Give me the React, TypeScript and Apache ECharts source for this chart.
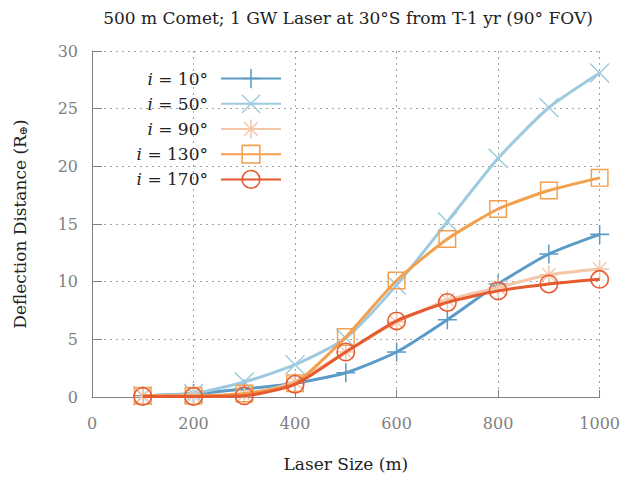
import React, { useEffect, useRef } from "react";
import * as echarts from "echarts";

const laserSizes = [100, 200, 300, 400, 500, 600, 700, 800, 900, 1000];
const seriesNames = ["i = 10°", "i = 50°", "i = 90°", "i = 130°", "i = 170°"];
const inc10 = [0.1, 0.3, 0.7, 1.2, 2.1, 3.9, 6.7, 9.8, 12.4, 14.1];
const inc50 = [0.1, 0.3, 1.3, 2.8, 5.1, 9.7, 15.2, 20.7, 25.1, 28.1];
const inc90 = [0.05, 0.1, 0.2, 1.3, 3.9, 6.5, 8.4, 9.5, 10.6, 11.1];
const inc130 = [0.1, 0.1, 0.3, 1.2, 5.2, 10.1, 13.7, 16.3, 17.9, 19.0];
const inc170 = [0.05, 0.05, 0.1, 1.1, 3.9, 6.6, 8.2, 9.2, 9.8, 10.2];
const yTicks = [0, 5, 10, 15, 20, 25, 30];
const xTicks = [0, 200, 400, 600, 800, 1000];

const colors = ["#5b9bc5", "#9dcadf", "#f5c6a8", "#f2a04e", "#e7592e"];

const PLUS = "path://M-0.8,-10 L0.8,-10 L0.8,10 L-0.8,10 Z M-10,-0.8 L10,-0.8 L10,0.8 L-10,0.8 Z";
const CROSS = "path://M-10,-9 L-9,-10 L10,9 L9,10 Z M9,-10 L10,-9 L-9,10 L-10,9 Z";
const STAR =
  "path://M-0.8,-10 L0.8,-10 L0.8,10 L-0.8,10 Z M-10,-0.8 L10,-0.8 L10,0.8 L-10,0.8 Z " +
  "M-7.6,-6.6 L-6.6,-7.6 L7.6,6.6 L6.6,7.6 Z M6.6,-7.6 L7.6,-6.6 L-6.6,7.6 L-7.6,6.6 Z";
const SQUARE = "path://M-10,-10 L10,-10 L10,10 L-10,10 Z M-8.4,-8.4 L-8.4,8.4 L8.4,8.4 L8.4,-8.4 Z";
const CIRCLE =
  "path://M0,-10 A10,10 0 1 1 0,10 A10,10 0 1 1 0,-10 Z M0,-8.4 A8.4,8.4 0 1 0 0,8.4 A8.4,8.4 0 1 0 0,-8.4 Z";

const symbols = [PLUS, CROSS, STAR, SQUARE, CIRCLE];
const symbolSizes = [19, 20, 19, 18, 19];
const values = [inc10, inc50, inc90, inc130, inc170];

const FONT = "DejaVu Serif";

export default function App() {
  const ref = useRef<HTMLDivElement>(null);
  useEffect(() => {
    if (!ref.current) return;
    const chart = echarts.init(ref.current, null, { renderer: "svg" });
    const series = values.map((vals, k) => ({
      name: seriesNames[k],
      type: "line",
      smooth: 0.2,
      data: laserSizes.map((x, j) => [x, vals[j]]),
      symbol: symbols[k],
      symbolSize: symbolSizes[k],
      showAllSymbol: true,
      itemStyle: { color: colors[k], borderWidth: 0 },
      lineStyle: { color: colors[k], width: 3 },
      emphasis: { disabled: true },
      z: 2 + k,
    }));
    chart.setOption({
      animation: false,
      backgroundColor: "#ffffff",
      title: {
        text: "500 m Comet; 1 GW Laser at 30°S from T-1 yr (90° FOV)",
        left: 343,
        textAlign: "center",
        top: 4,
        textStyle: { fontFamily: FONT, fontSize: 17, fontWeight: "normal", color: "#222" },
      },
      legend: {
        orient: "vertical",
        right: 341,
        top: 69,
        padding: 0,
        align: "right",
        itemWidth: 60,
        itemHeight: 24,
        itemGap: 6,
        data: seriesNames,
        formatter: (name: string) => "{it|i}" + name.slice(1),
        textStyle: {
          fontFamily: FONT,
          fontSize: 17,
          color: "#222",
          padding: [0, 8, 0, 0],
          rich: {
            it: { fontFamily: FONT, fontSize: 17, fontStyle: "italic", color: "#222" },
          },
        },
      },
      grid: { left: 92, right: 23, top: 51, bottom: 76 },
      xAxis: {
        type: "value",
        min: 0,
        max: 1000,
        interval: 200,
        name: "Laser Size (m)",
        nameLocation: "middle",
        nameGap: 58,
        nameTextStyle: { fontFamily: FONT, fontSize: 17, color: "#222" },
        axisLine: { show: true, lineStyle: { color: "#808080", width: 1 } },
        axisTick: { show: true, inside: true, length: 7, lineStyle: { color: "#808080" } },
        axisLabel: {
          margin: 18,
          fontFamily: FONT,
          fontSize: 16,
          color: "#808080",
          formatter: (v: number) => (xTicks.includes(v) ? String(v) : ""),
        },
        splitLine: { show: true, lineStyle: { color: "#a0a0a0", type: [2, 4], width: 1 } },
      },
      yAxis: {
        type: "value",
        min: 0,
        max: 30,
        interval: 5,
        name: "Deflection Distance (R{sub|⊕})",
        nameLocation: "middle",
        nameGap: 63,
        nameTextStyle: {
          fontFamily: FONT,
          fontSize: 17,
          color: "#222",
          rich: {
            sub: { fontFamily: FONT, fontSize: 11, color: "#222", padding: [7, 0, 0, 0] },
          },
        },
        axisLine: { show: true, lineStyle: { color: "#808080", width: 1 } },
        axisTick: { show: true, inside: true, length: 10, lineStyle: { color: "#808080" } },
        axisLabel: {
          margin: 14,
          fontFamily: FONT,
          fontSize: 16,
          color: "#808080",
          formatter: (v: number) => (yTicks.includes(v) ? String(v) : ""),
        },
        splitLine: { show: true, lineStyle: { color: "#a0a0a0", type: [2, 4], width: 1 } },
      },
      series,
    });
    return () => chart.dispose();
  }, []);
  return (
    <div
      ref={ref}
      style={{ position: "absolute", left: 0, top: 0, width: 623, height: 477 }}
    />
  );
}
